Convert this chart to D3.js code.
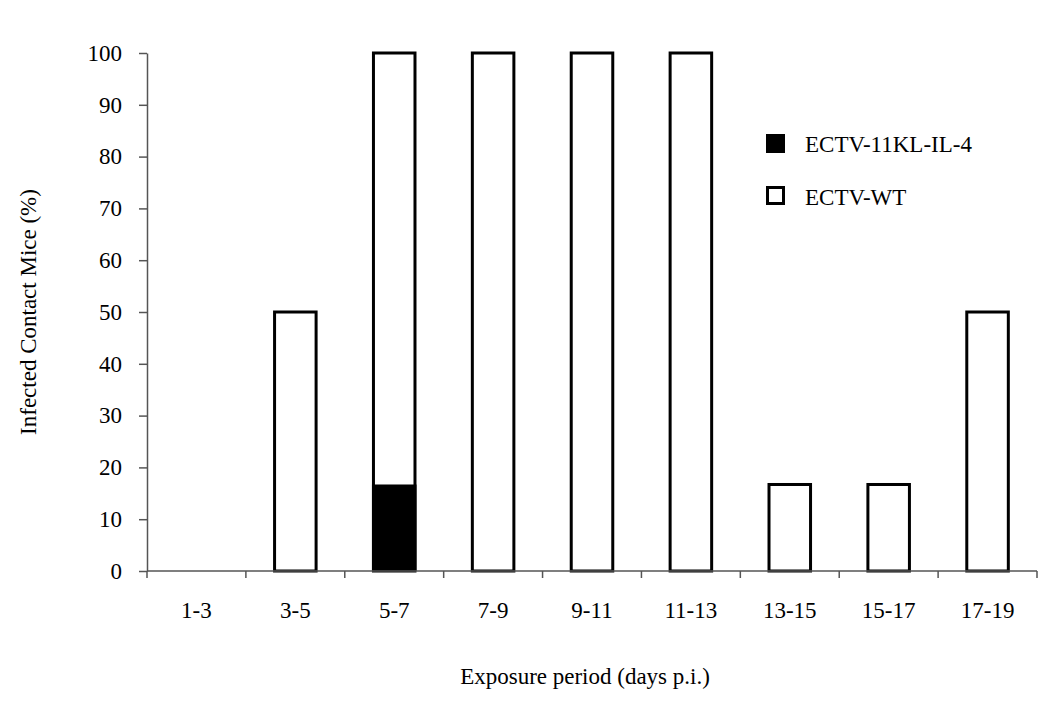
<!DOCTYPE html>
<html><head><meta charset="utf-8">
<script src="https://cdn.jsdelivr.net/npm/d3@7"></script>
<style>body{margin:0;background:#fff}svg text{font-family:"Liberation Serif","Times New Roman",serif;fill:#000}</style>
</head><body>
<svg id="c" width="1050" height="710"></svg>
<script>
const categories = ["1-3","3-5","5-7","7-9","9-11","11-13","13-15","15-17","17-19"];
const wtValues = [0,50,100,100,100,100,16.7,16.7,50];
const il4Values = [0,0,16.7,0,0,0,0,0,0];
const yTicks = [0,10,20,30,40,50,60,70,80,90,100];
const seriesNames = ["ECTV-11KL-IL-4","ECTV-WT"];

const svg = d3.select("#c");
const mLeft = 147, mRight = 1037, mTop = 53, mBottom = 571;
const x = d3.scaleBand().domain(categories).range([mLeft, mRight]).paddingInner(0.58).paddingOuter(0.29);
const y = d3.scaleLinear().domain([0,100]).range([mBottom, mTop]);
const fs = 23;

// WT bars
svg.append("g").selectAll("rect").data(categories.map((c,i)=>({c,v:wtValues[i]})).filter(d=>d.v>0))
  .join("rect").attr("x",d=>x(d.c)).attr("width",x.bandwidth())
  .attr("y",d=>y(d.v)).attr("height",d=>y(0)-y(d.v))
  .attr("fill","#fff").attr("stroke","#000").attr("stroke-width",3);
// IL-4 bars
svg.append("g").selectAll("rect").data(categories.map((c,i)=>({c,v:il4Values[i]})).filter(d=>d.v>0))
  .join("rect").attr("x",d=>x(d.c)-1.5).attr("width",x.bandwidth()+3)
  .attr("y",d=>y(d.v)).attr("height",d=>y(0)-y(d.v))
  .attr("fill","#000");

// Y axis
const ya = svg.append("g").attr("transform",`translate(${mLeft},0)`)
  .call(d3.axisLeft(y).tickValues(yTicks).tickSize(8).tickPadding(17).tickSizeOuter(0));
ya.select(".domain").attr("stroke","#555").attr("stroke-width",1.5);
ya.selectAll(".tick line").attr("stroke","#555").attr("stroke-width",1.5);
ya.selectAll("text").style("font-size",fs+"px").attr("fill","#000");

// X axis
const xa = svg.append("g").attr("transform",`translate(0,${mBottom})`);
xa.append("line").attr("x1",mLeft).attr("x2",mRight).attr("y1",0).attr("y2",0).attr("stroke","#555").attr("stroke-width",1.5);
const bounds = d3.range(categories.length+1).map(i=>mLeft+i*(mRight-mLeft)/categories.length);
xa.selectAll("line.t").data(bounds).join("line").attr("class","t")
  .attr("x1",d=>d).attr("x2",d=>d).attr("y1",0).attr("y2",7).attr("stroke","#555").attr("stroke-width",1.5);
xa.selectAll("text").data(categories).join("text")
  .attr("x",d=>x(d)+x.bandwidth()/2).attr("y",47).attr("text-anchor","middle")
  .style("font-size",fs+"px").text(d=>d);

// Titles
svg.append("text").attr("x",(mLeft+mRight)/2-7).attr("y",684).attr("text-anchor","middle")
  .style("font-size",fs+"px").text("Exposure period (days p.i.)");
svg.append("text").attr("transform",`translate(36,${(mTop+mBottom)/2}) rotate(-90)`).attr("text-anchor","middle")
  .style("font-size",fs+"px").text("Infected Contact Mice (%)");

// Legend
const lg = svg.append("g");
lg.append("rect").attr("x",766).attr("y",134).attr("width",19).attr("height",19).attr("fill","#000");
lg.append("rect").attr("x",767.5).attr("y",187.5).attr("width",16).attr("height",16).attr("fill","#fff").attr("stroke","#000").attr("stroke-width",3);
lg.append("text").attr("x",805).attr("y",152).style("font-size",fs+"px").text(seriesNames[0]);
lg.append("text").attr("x",805).attr("y",205).style("font-size",fs+"px").text(seriesNames[1]);
</script>
</body></html>
